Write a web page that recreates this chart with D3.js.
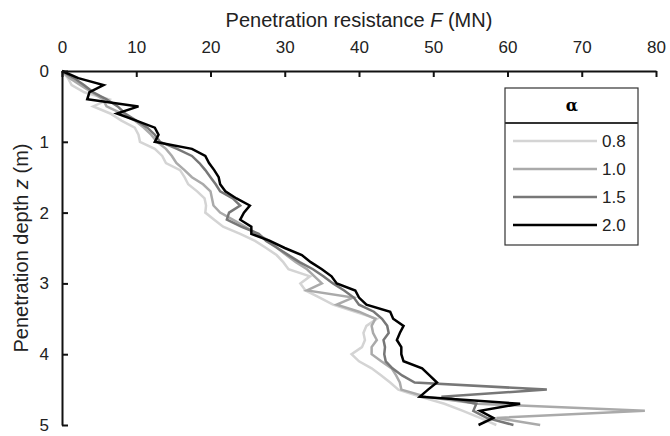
<!DOCTYPE html>
<html>
<head>
<meta charset="utf-8">
<script src="https://cdn.jsdelivr.net/npm/d3@7"></script>
<style>
  body { margin: 0; background: #fff; }
  text { font-family: "Liberation Sans", Arial, Helvetica, sans-serif; }
</style>
</head>
<body>
<script>
var w = 670;
var h = 436;
var margin = {top: 71, right: 14, bottom: 11, left: 62};

// depth z (m), every 0.1 m
var depths = d3.range(0, 51).map(function (i) { return i / 10; });

var alphas = ["0.8", "1.0", "1.5", "2.0"];
var colors = ["#d4d4d4", "#aaaaaa", "#777777", "#000000"];

var f08 = [0, 0.8, 1.3, 3.0, 6.3, 4.2, 6.5, 8.0, 9.8, 10.3,
           10.5, 12.5, 13.5, 14.0, 15.9, 16.5, 17.0, 18.2, 19.2, 19.4,
           19.3, 20.5, 21.7, 24.0, 26.0, 27.5, 28.9, 29.8, 30.5, 33.4,
           32.1, 32.8, 34.7, 36.5, 39.5, 42.4, 41.0, 40.6, 40.8, 40.4,
           39.0, 40.0, 41.7, 43.0, 44.2, 45.3, 48.2, 51.5, 54.0, 56.3,
           58.5];
var f10 = [0, 1.0, 2.5, 4.0, 5.5, 6.0, 8.0, 9.8, 11.0, 12.0,
           12.8, 14.0, 14.8, 15.4, 16.5, 17.5, 19.0, 20.0, 20.2, 20.4,
           21.3, 23.0, 24.7, 26.2, 28.0, 29.0, 30.2, 31.5, 33.0, 34.0,
           35.0, 33.0, 39.2, 37.0, 40.0, 42.2, 41.7, 41.9, 42.4, 41.7,
           41.7, 43.0, 44.4, 45.0, 45.5, 45.7, 49.0, 56.0, 78.5, 58.5,
           64.4];
var f15 = [0, 1.6, 3.0, 4.2, 6.0, 7.5, 8.5, 10.0, 11.5, 12.5,
           13.2, 15.5, 17.5, 18.5, 19.3, 20.0, 20.7, 21.3, 23.0, 24.0,
           22.5, 22.2, 24.2, 26.5, 27.5, 29.0, 30.5, 32.0, 33.8, 35.2,
           36.5, 38.0, 39.3, 40.0, 42.0, 43.1, 43.8, 44.0, 43.3, 43.5,
           43.4, 43.6, 44.5, 45.8, 47.5, 65.3, 51.1, 55.8, 55.4, 57.2,
           60.8];
var f20 = [0, 2.2, 5.6, 3.7, 3.4, 10.3, 7.4, 10.0, 12.5, 13.0,
           12.5, 17.5, 19.3, 19.8, 20.5, 21.1, 21.3, 22.0, 23.5, 25.3,
           24.5, 24.0, 25.5, 25.5, 28.0, 30.0, 32.3, 33.5, 35.0, 36.3,
           37.0, 39.5, 40.0, 41.0, 44.2, 44.6, 46.0, 45.5, 45.1, 45.7,
           45.7, 46.0, 48.5, 49.5, 50.5, 49.3, 48.2, 61.7, 56.3, 58.1,
           56.1];
var seriesF = [f08, f10, f15, f20];

var xTicks = [0, 10, 20, 30, 40, 50, 60, 70, 80];
var yTicks = [0, 1, 2, 3, 4, 5];

var svg = d3.select("body")
    .append("svg")
    .attr("width", w)
    .attr("height", h);

var xScale = d3.scaleLinear()
    .domain([0, 80])
    .range([margin.left, w - margin.right]);

var yScale = d3.scaleLinear()
    .domain([0, 5])
    .range([margin.top, h - margin.bottom]);

var xAxis = d3.axisTop(xScale).tickValues(xTicks).tickFormat(d3.format("d"))
    .tickSizeInner(-6).tickSizeOuter(0).tickPadding(18);
var yAxis = d3.axisLeft(yScale).tickValues(yTicks).tickFormat(d3.format("d"))
    .tickSizeInner(-6).tickSizeOuter(0).tickPadding(13);

var line = d3.line()
    .x(function (d) { return xScale(d[0]); })
    .y(function (d) { return yScale(d[1]); });

seriesF.forEach(function (vals, i) {
    var pts = vals.map(function (v, j) { return [v, depths[j]]; });
    svg.append("path")
        .attr("d", line(pts))
        .attr("fill", "none")
        .attr("stroke", colors[i])
        .attr("stroke-width", 2.5)
        .attr("stroke-linejoin", "miter");
});

var gx = svg.append("g")
    .attr("transform", "translate(0," + margin.top + ")")
    .call(xAxis);
var gy = svg.append("g")
    .attr("transform", "translate(" + margin.left + ",0)")
    .call(yAxis);

[gx, gy].forEach(function (g) {
    g.select(".domain").attr("stroke", "#111").attr("stroke-width", 2);
    g.selectAll(".tick line").attr("stroke", "#111").attr("stroke-width", 2);
    g.selectAll(".tick text")
        .attr("font-size", 17)
        .attr("fill", "#222")
        .style("font-family", "'Liberation Sans', Arial, sans-serif");
});

// axis titles, centred on the axes
var xt = svg.append("text")
    .attr("x", (margin.left + w - margin.right) / 2)
    .attr("y", 27)
    .attr("text-anchor", "middle")
    .attr("font-size", 20)
    .attr("fill", "#222");
xt.append("tspan").text("Penetration resistance ");
xt.append("tspan").attr("font-style", "italic").text("F");
xt.append("tspan").text(" (MN)");

var yt = svg.append("text")
    .attr("transform", "translate(28," + (margin.top + h - margin.bottom) / 2 + ") rotate(-90)")
    .attr("text-anchor", "middle")
    .attr("font-size", 20)
    .attr("fill", "#222");
yt.append("tspan").text("Penetration depth ");
yt.append("tspan").attr("font-style", "italic").text("z");
yt.append("tspan").text(" (m)");

// legend
var lg = svg.append("g").attr("transform", "translate(505,88)");
lg.append("rect")
    .attr("width", 133)
    .attr("height", 157)
    .attr("fill", "#fff")
    .attr("stroke", "#333")
    .attr("stroke-width", 1.2);
lg.append("line")
    .attr("x1", 0).attr("x2", 133)
    .attr("y1", 35).attr("y2", 35)
    .attr("stroke", "#333")
    .attr("stroke-width", 2);
lg.append("text")
    .attr("x", 67)
    .attr("y", 23)
    .attr("text-anchor", "middle")
    .attr("font-size", 16)
    .attr("font-weight", "bold")
    .style("font-family", "'DejaVu Serif', serif")
    .text("\u03b1");

alphas.forEach(function (a, i) {
    var yy = 53 + i * 28;
    lg.append("line")
        .attr("x1", 8).attr("x2", 92)
        .attr("y1", yy).attr("y2", yy)
        .attr("stroke", colors[i])
        .attr("stroke-width", 2.5);
    lg.append("text")
        .attr("x", 97)
        .attr("y", yy + 6)
        .attr("font-size", 17)
        .attr("fill", "#222")
        .text(a);
});
</script>
</body>
</html>
